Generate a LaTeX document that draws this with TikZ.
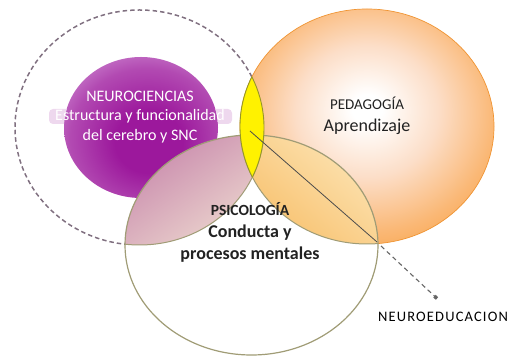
\documentclass[tikz,border=0pt]{standalone}
\usepackage{fontspec}
\setmainfont{Carlito}
\usetikzlibrary{arrows.meta}
\definecolor{dashgray}{RGB}{128,112,128}
\definecolor{purpledark}{RGB}{156,24,156}
\definecolor{purplemid}{RGB}{178,74,178}
\definecolor{purplelight}{RGB}{208,140,212}
\definecolor{purpleglow}{RGB}{238,216,238}
\definecolor{orangeedge}{RGB}{247,156,56}
\definecolor{orangemid}{RGB}{250,184,118}
\definecolor{orangepale}{RGB}{252,222,200}
\definecolor{orangeline}{RGB}{240,148,50}
\definecolor{psychline}{RGB}{160,156,118}
\definecolor{pinkdark}{RGB}{198,132,170}
\definecolor{pinklight}{RGB}{238,218,208}
\definecolor{olight}{RGB}{252,230,184}
\definecolor{odark}{RGB}{248,190,104}
\definecolor{yellowline}{RGB}{150,150,40}
\definecolor{textdark}{RGB}{34,34,34}
\pgfdeclareradialshading{orangeball}{\pgfpoint{0bp}{4bp}}{color(0bp)=(white); color(3bp)=(white); color(14bp)=(orangepale); color(25bp)=(orangemid); color(35bp)=(orangeedge); color(75bp)=(orangeedge)}
\pgfdeclareradialshading{purpleball}{\pgfpoint{3bp}{-6bp}}{color(0bp)=(purpledark); color(11bp)=(purpledark); color(25bp)=(purplemid); color(35bp)=(purplelight); color(75bp)=(purplelight)}
\tikzset{
  neuroset/.style={draw=dashgray, line width=1.5pt, dash pattern=on 4.5pt off 3pt},
  lensline/.style={draw=psychline, line width=1pt},
  label/.style={font=\fontsize{16}{20}\selectfont, align=center, inner sep=0pt},
}
\begin{document}
\begin{tikzpicture}[x=1pt,y=1pt]
\useasboundingbox (0,0) rectangle (508,358);
% centres
\coordinate (cN) at (139.5,230.5);
\coordinate (cP) at (367,231.5);
\coordinate (cS) at (251.5,113);
\coordinate (cV) at (141,230.5);
\def\Nell{(cN) ellipse [x radius=124.5, y radius=117.5]}
\def\Pell{(cP) ellipse [x radius=127, y radius=117.5]}
\def\Sell{(cS) ellipse [x radius=126.5, y radius=110]}
\def\Vell{(cV) ellipse [x radius=77, y radius=70.5]}
% neurociencias dashed circle
\draw[neuroset] \Nell;
% purple ball
\shade[shading=purpleball] \Vell;
% glow band behind the middle text line, outside the purple ball
\begin{scope}[even odd rule]
  \clip (30,200) rectangle (250,280) \Vell;
  \fill[purpleglow, rounded corners=4pt] (49,234) rectangle (232,249);
\end{scope}
% pedagogia ball
\shade[shading=orangeball] \Pell;
\draw[orangeline, line width=0.7pt] \Pell;
% psicologia circle fill
\fill[white] \Sell;
% pink lens
\begin{scope}
  \clip \Sell; \clip \Nell;
  \shade[top color=pinkdark, bottom color=pinklight, shading angle=35] (120,108) rectangle (270,232);
\end{scope}
% orange lens
\begin{scope}
  \clip \Sell; \clip \Pell;
  \shade[top color=olight, bottom color=odark, shading angle=-40] (236,108) rectangle (382,232);
\end{scope}
% lens inner boundaries
\begin{scope}
  \clip \Sell;
  \draw[lensline] \Nell;
  \draw[lensline] \Pell;
\end{scope}
% psicologia outline
\draw[psychline, line width=1.2pt] \Sell;
% yellow lens
\begin{scope}
  \clip \Nell; \clip \Pell;
  \fill[yellow] (230,160) rectangle (280,300);
\end{scope}
\begin{scope}
  \clip \Nell;
  \draw[yellowline, line width=0.9pt] \Pell;
\end{scope}
\begin{scope}
  \clip \Pell;
  \draw[yellowline, line width=0.9pt] \Nell;
\end{scope}
% texts
\node[label, text=white, font=\fontsize{16}{19.5}\selectfont] (neuro) at (140,241) {NEUROCIENCIAS\\Estructura y funcionalidad\\del cerebro y SNC};
\node[label, text=textdark, font=\fontsize{18}{22}\selectfont] (peda) at (367,242) {{\fontsize{15}{22}\selectfont PEDAGOGÍA}\\Aprendizaje};
\node[label, text=textdark, font=\bfseries\fontsize{18}{22}\selectfont] (psico) at (250,126) {{\fontsize{15.5}{22}\selectfont PSICOLOGÍA}\\Conducta y\\procesos mentales};
\node[label, text=black, font=\fontsize{14.5}{16}\selectfont\addfontfeatures{LetterSpace=8}] (neuroedu) at (443,41) {NEUROEDUCACION};
% connector
\coordinate (tri) at (250,227);
\coordinate (tip) at (377,116);
\coordinate (tipout) at (381,112);
\coordinate (arr) at (437,59.5);
\draw[black!70, line width=0.8pt] (tri) -- (tip);
\draw[black!60, line width=1.1pt, dash pattern=on 4.5pt off 3.5pt, -{Square[length=3.5pt,width=3.5pt]}] (tipout) -- (arr);
\end{tikzpicture}
\end{document}
